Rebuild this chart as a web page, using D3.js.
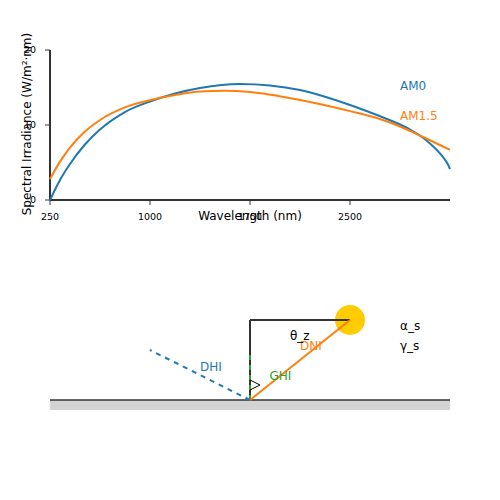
<!DOCTYPE html>
<html><head><meta charset="utf-8">
<script src="https://cdn.jsdelivr.net/npm/d3@7"></script>
<style>html,body{margin:0;padding:0;background:#fff}svg{display:block}text{font-family:"DejaVu Sans",sans-serif}</style>
</head><body><div id="c"></div>
<script>
const am0Wavelengths=[250,325,400,512,625,812,1000,1188,1375,1675,1900,2125,2500,2702,2875,2950,3040,3100,3197,3235,3250];
const am0Values=[0,2.67,4.8,7.4,9.4,11.73,13.13,14.2,14.93,15.47,15.27,14.67,12.67,11.33,10.07,9.4,8.4,7.53,5.73,4.73,4.13];
const am15Wavelengths=[250,325,400,512,625,812,1000,1188,1375,1562,1750,2125,2500,2702,2875,3040,3250];
const am15Values=[2.8,5.12,6.99,9.12,10.67,12.35,13.31,14.0,14.47,14.56,14.4,13.33,11.85,10.93,9.8,8.47,6.67];
const xTicks=[250,1000,1750,2500];
const yTicks=[0,10,20];
const sunPoint=[1,0.8], zenithTop=[0,0.8], origin=[0,0], dhiStart=[-1,0.5], ghiTop=[0,0.5];
const anglePoints=[[0,0.2],[0.1,0.15],[0,0.1]];
const groundX=[-2,2], groundY=[-0.1,0];
const width=500,height=500;
const svg=d3.select("#c").append("svg").attr("width",width).attr("height",height);
const x=d3.scaleLinear().domain([250,3250]).range([50,450]);
const y=d3.scaleLinear().domain([0,20]).range([200,50]);
const dx=d3.scaleLinear().domain([-2,2]).range([50,450]);
const dy=d3.scaleLinear().domain([0,1]).range([400,300]);
const DARK="#333",BLUE="#1f77b4",ORANGE="#ff7f0e",GREEN="#2ca02c";
const xAxis=d3.axisBottom(x).tickValues(xTicks).tickSize(5).tickSizeOuter(0).tickPadding(8).offset(0).tickFormat(d3.format("d"));
const yAxis=d3.axisLeft(y).tickValues(yTicks).tickSize(5).tickSizeOuter(0).tickPadding(9).offset(0).tickFormat(d3.format("d"));
const gx=svg.append("g").attr("transform","translate(0,200)").call(xAxis);
const gy=svg.append("g").attr("transform","translate(50,0)").call(yAxis);
[gx,gy].forEach(g=>{g.selectAll("path,line").attr("stroke",DARK);g.select("path").attr("stroke-width",2);g.selectAll("text").attr("font-size",9.5).attr("fill","#000").attr("font-family","DejaVu Sans");});
const lineFor=w=>d3.line().x((d,i)=>x(w[i])).y(d=>y(d)).curve(d3.curveMonotoneX);
[[am0Wavelengths,am0Values,BLUE],[am15Wavelengths,am15Values,ORANGE]].forEach(([w,v,c])=>svg.append("path").attr("d",lineFor(w)(v)).attr("fill","none").attr("stroke",c).attr("stroke-width",2));
function label(t,px,py,c,extra){const e=svg.append("text").attr("x",px).attr("y",py).attr("fill",c).attr("font-size",12).text(t);if(extra)extra(e);return e;}
label("AM0",400,90,BLUE);
label("AM1.5",400,120,ORANGE);
label("Wavelength (nm)",250,220,"#000",e=>e.attr("text-anchor","middle"));
svg.append("text").attr("transform","translate(31,124) rotate(-90)").attr("text-anchor","middle").attr("font-size",12).attr("fill","#000").text("Spectral Irradiance (W/m²·nm)");
svg.append("rect").attr("x",dx(groundX[0])).attr("y",dy(groundY[1])).attr("width",dx(groundX[1])-dx(groundX[0])).attr("height",dy(groundY[0])-dy(groundY[1])).attr("fill","#d3d3d3");
const seg=(a,b,c,w,dash)=>{const l=svg.append("line").attr("x1",dx(a[0])).attr("y1",dy(a[1])).attr("x2",dx(b[0])).attr("y2",dy(b[1])).attr("stroke",c).attr("stroke-width",w);if(dash)l.attr("stroke-dasharray",dash);return l;};
seg([groundX[0],0],[groundX[1],0],DARK,1.5);
svg.append("circle").attr("cx",dx(sunPoint[0])).attr("cy",dy(sunPoint[1])).attr("r",15).attr("fill","#ffcc00");
seg(origin,zenithTop,DARK,2);
seg(zenithTop,sunPoint,DARK,2);
seg(origin,ghiTop,GREEN,2,"5,5");
seg(origin,sunPoint,ORANGE,2);
seg(origin,dhiStart,BLUE,2,"5,5");
svg.append("path").attr("d",d3.line().x(d=>dx(d[0])).y(d=>dy(d[1]))(anglePoints)).attr("fill","none").attr("stroke","#000").attr("stroke-width",1);
label("DHI",200,371,BLUE);
label("DNI",300,350,ORANGE);
label("GHI",269.5,380,GREEN);
label("θ_z",290,340,"#000");
label("α_s",400,330,"#000");
label("γ_s",400,350,"#000");
</script></body></html>
